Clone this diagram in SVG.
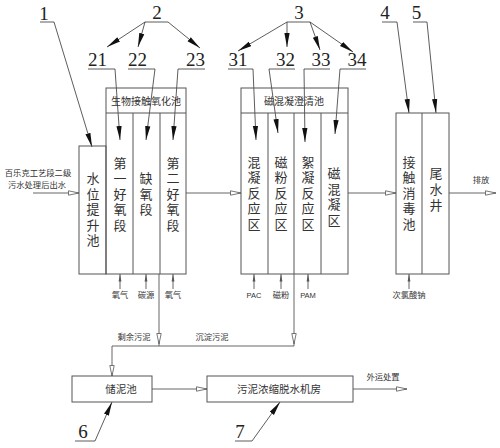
<svg xmlns="http://www.w3.org/2000/svg" width="500" height="448" viewBox="0 0 500 448">
<style>
.bg{fill:#fff}
.box{fill:none;stroke:#555;stroke-width:1}
.ln{fill:none;stroke:#555;stroke-width:0.9}
.ld{fill:none;stroke:#333;stroke-width:0.8}
.num{font-family:"Liberation Serif","DejaVu Serif",serif;font-size:19px;fill:#222;text-anchor:middle}
.vt{font-family:"Noto Sans CJK SC","Noto Sans CJK JP",sans-serif;font-size:13px;fill:#333;text-anchor:middle}
.hd{font-family:"Noto Sans CJK SC",sans-serif;font-size:10px;fill:#333;text-anchor:middle}
.sm{font-family:"Noto Sans CJK SC",sans-serif;font-size:8.3px;fill:#333;text-anchor:middle}
.lat{font-family:"Liberation Sans","Noto Sans CJK SC",sans-serif;font-size:7.5px;fill:#333;text-anchor:middle}
.bx{font-family:"Noto Sans CJK SC",sans-serif;font-size:10.5px;fill:#333;text-anchor:middle}
</style>
<defs>
<marker id="lead" markerUnits="userSpaceOnUse" markerWidth="15" markerHeight="6" refX="14" refY="3" orient="auto">
<path d="M0,0.4 L14,3 L0,5.6 z" fill="#111"/>
</marker>
<marker id="open" markerUnits="userSpaceOnUse" markerWidth="12" markerHeight="6" refX="11" refY="3" orient="auto">
<path d="M0.5,0.8 L11,3 L0.5,5.2 z" fill="#fff" stroke="#555" stroke-width="0.8"/>
</marker>
<marker id="small" markerUnits="userSpaceOnUse" markerWidth="8" markerHeight="4" refX="7.5" refY="2" orient="auto">
<path d="M0,0.6 L7.5,2 L0,3.4 z" fill="#555"/>
</marker>
</defs>
<rect class="bg" width="500" height="448"/>

<g id="connectors">
<path class="ln" d="M33,193 H79" marker-end="url(#open)"/>
<path class="ln" d="M186,193 H241" marker-end="url(#open)"/>
<path class="ln" d="M348,193 H396" marker-end="url(#open)"/>
<path class="ln" d="M449,193 H496" marker-end="url(#open)"/>
<path class="ln" d="M120,289 V274" marker-end="url(#small)"/>
<path class="ln" d="M146,289 V274" marker-end="url(#small)"/>
<path class="ln" d="M173,289 V274" marker-end="url(#small)"/>
<path class="ln" d="M254,289 V274" marker-end="url(#small)"/>
<path class="ln" d="M281,289 V274" marker-end="url(#small)"/>
<path class="ln" d="M308,289 V274" marker-end="url(#small)"/>
<path class="ln" d="M409,289 V274" marker-end="url(#small)"/>
<path class="ln" d="M159,274 V344" marker-end="url(#open)"/>
<path class="ln" d="M294,274 V344" marker-end="url(#open)"/>
<path class="ln" d="M159,344 V346 M294,344 V346"/>
<path class="ln" d="M294,346 H112 V376" marker-end="url(#open)"/>
<path class="ln" d="M152,389 H207" marker-end="url(#open)"/>
<path class="ln" d="M353,389 H407" marker-end="url(#open)"/>
</g>

<g id="leaders">
<path class="ld" d="M40,22 H54 L92,147" marker-end="url(#lead)"/>
<path class="ld" d="M145,22 H168"/>
<path class="ld" d="M145,22 L107,47" marker-end="url(#lead)"/>
<path class="ld" d="M145,22 L138,47" marker-end="url(#lead)"/>
<path class="ld" d="M168,22 L200,48" marker-end="url(#lead)"/>
<path class="ld" d="M88,69 H115 L120,140" marker-end="url(#lead)"/>
<path class="ld" d="M128,69 H155 L146,140" marker-end="url(#lead)"/>
<path class="ld" d="M205,69 H178 L173,140" marker-end="url(#lead)"/>
<path class="ld" d="M287,22 H310"/>
<path class="ld" d="M287,22 L238,51" marker-end="url(#lead)"/>
<path class="ld" d="M287,22 L287,47" marker-end="url(#lead)"/>
<path class="ld" d="M310,22 L320,50" marker-end="url(#lead)"/>
<path class="ld" d="M310,22 L353,52" marker-end="url(#lead)"/>
<path class="ld" d="M228,69 H253 L256,140" marker-end="url(#lead)"/>
<path class="ld" d="M295,69 H269 L278,133" marker-end="url(#lead)"/>
<path class="ld" d="M330,69 H304 L305,142" marker-end="url(#lead)"/>
<path class="ld" d="M366,69 H340 L335,134" marker-end="url(#lead)"/>
<path class="ld" d="M382,22 H397 L409,113" marker-end="url(#lead)"/>
<path class="ld" d="M413,22 H427 L436,113" marker-end="url(#lead)"/>
<path class="ld" d="M75,441 H95 L112,402" marker-end="url(#lead)"/>
<path class="ld" d="M235,441 H252 L280,402" marker-end="url(#lead)"/>
</g>

<g id="labels">
<text class="num" x="44" y="20">1</text>
<text class="num" x="157" y="19">2</text>
<text class="num" x="97.5" y="66">21</text>
<text class="num" x="137.5" y="66">22</text>
<text class="num" x="195.5" y="66">23</text>
<text class="num" x="299" y="19">3</text>
<text class="num" x="238" y="66">31</text>
<text class="num" x="285.5" y="66">32</text>
<text class="num" x="321" y="66">33</text>
<text class="num" x="357" y="66">34</text>
<text class="num" x="385" y="19">4</text>
<text class="num" x="416.5" y="19">5</text>
<text class="num" x="83" y="438">6</text>
<text class="num" x="240" y="438">7</text>
</g>

<g id="node-lift">
<rect class="box" x="79" y="146" width="27" height="128"/>
<text class="vt" x="93 93 93 93 93" y="183 198.5 214 229.5 245">水位提升池</text>
</g>

<g id="node-bio">
<rect class="box" x="106" y="88" width="80" height="186"/>
<path class="box" d="M106,113 H186 M133,113 V274 M160,113 V274"/>
<text class="hd" x="146" y="104.5">生物接触氧化池</text>
<text class="vt" x="120 120 120 120 120" y="168 183 198.5 214 229.5">第一好氧段</text>
<text class="vt" x="146 146 146" y="183 198.5 214">缺氧段</text>
<text class="vt" x="173 173 173 173 173" y="168 183 198.5 214 229.5">第二好氧段</text>
</g>

<g id="node-mag">
<rect class="box" x="241" y="88" width="107" height="186"/>
<path class="box" d="M241,113 H348 M268,113 V274 M294,113 V274 M321,113 V274"/>
<text class="hd" x="294" y="104.5">磁混凝澄清池</text>
<text class="vt" x="254 254 254 254 254" y="167 182 197.5 213 229">混凝反应区</text>
<text class="vt" x="281 281 281 281 281" y="167 182 197.5 213 229">磁粉反应区</text>
<text class="vt" x="308 308 308 308 308" y="167 182 197.5 213 229">絮凝反应区</text>
<text class="vt" x="334 334 334 334" y="178 194 209 225">磁混凝区</text>
</g>

<g id="node-disinfect">
<rect class="box" x="396" y="113" width="53" height="161"/>
<path class="box" d="M422,113 V274"/>
<text class="vt" x="409 409 409 409 409" y="167 182 197.5 213 229">接触消毒池</text>
<text class="vt" x="436 436 436" y="178 194 210">尾水井</text>
</g>

<g id="node-sludge-tank">
<rect class="box" x="72" y="376" width="80" height="26"/>
<text class="bx" x="121" y="393">储泥池</text>
</g>

<g id="node-dewater">
<rect class="box" x="207" y="376" width="146" height="26"/>
<text class="bx" x="279" y="393">污泥浓缩脱水机房</text>
</g>

<g id="texts">
<text class="sm" x="38" y="176">百乐克工艺段二级</text>
<text class="sm" x="37" y="188">污水处理后出水</text>
<text class="sm" x="120" y="298">氧气</text>
<text class="sm" x="146" y="298">碳源</text>
<text class="sm" x="173" y="298">氧气</text>
<text class="lat" x="254" y="298">PAC</text>
<text class="sm" x="281" y="298">磁粉</text>
<text class="lat" x="308" y="298">PAM</text>
<text class="sm" x="409" y="298">次氯酸钠</text>
<text class="sm" x="134" y="340">剩余污泥</text>
<text class="sm" x="212" y="340">沉淀污泥</text>
<text class="sm" x="481" y="183">排放</text>
<text class="sm" x="383" y="380">外运处置</text>
</g>
</svg>
